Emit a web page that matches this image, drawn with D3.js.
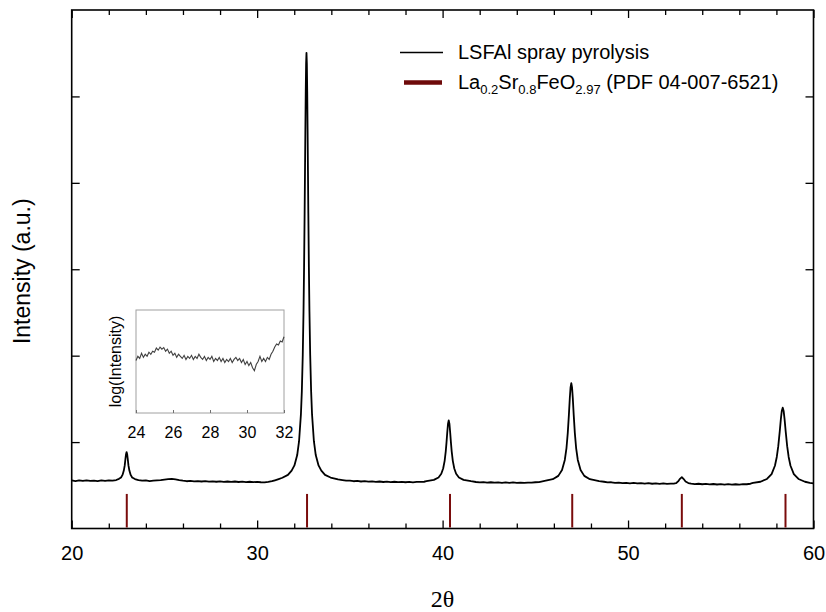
<!DOCTYPE html>
<html><head><meta charset="utf-8">
<script src="https://cdn.jsdelivr.net/npm/d3@7"></script>
<style>body{margin:0;background:#fff}svg{display:block}text{font-family:"Liberation Sans",Arial,sans-serif}</style>
</head><body><svg id="c" width="826" height="612"></svg>
<script>
// ---- data ----
const scanPoints = [
[20.0,0.556],[20.2,0.549],[20.4,0.557],[20.6,0.550],[20.8,0.558],[21.0,0.551],[21.2,0.555],[21.4,0.548],[21.6,0.556],[21.8,0.551],[22.0,0.557],[22.2,0.553],[22.4,0.561],[22.55,0.575],
[22.66,0.59],[22.74,0.62],[22.81,0.67],[22.86,0.73],[22.90,0.81],[22.93,0.86],[22.96,0.884],[22.99,0.86],[23.02,0.81],[23.06,0.73],[23.11,0.67],[23.18,0.62],[23.26,0.59],[23.41,0.572],[23.6,0.561],[23.8,0.553],
[24.0,0.556],[24.2,0.549],[24.4,0.553],[24.6,0.557],[24.8,0.560],[25.0,0.566],[25.2,0.571],[25.4,0.574],[25.6,0.568],[25.8,0.560],[26.0,0.553],[26.2,0.547],[26.4,0.551],[26.6,0.545],[26.8,0.549],[27.0,0.544],[27.2,0.548],[27.4,0.542],[27.6,0.546],[27.8,0.541],[28.0,0.546],[28.2,0.540],[28.4,0.544],[28.6,0.539],[28.8,0.544],[29.0,0.538],[29.2,0.542],[29.4,0.537],[29.6,0.541],[29.8,0.536],[30.0,0.540],[30.2,0.535],[30.4,0.534],[30.6,0.539],[30.8,0.547],
[30.96,0.558],[31.16,0.572],[31.36,0.587],[31.66,0.62],[31.86,0.67],[32.01,0.73],[32.16,0.85],[32.26,1.01],[32.36,1.32],[32.41,1.59],[32.46,2.01],[32.50,2.51],[32.53,3.02],[32.56,3.65],[32.58,4.13],[32.60,4.62],[32.62,5.06],[32.64,5.38],[32.66,5.505],
[32.68,5.38],[32.70,5.06],[32.72,4.62],[32.74,4.13],[32.76,3.65],[32.79,3.02],[32.82,2.51],[32.86,2.01],[32.91,1.59],[32.96,1.32],[33.06,1.01],[33.16,0.85],[33.31,0.73],[33.46,0.67],[33.66,0.62],[33.96,0.59],[34.36,0.568],
[34.6,0.561],[34.8,0.554],[35.0,0.553],[35.2,0.547],[35.4,0.550],[35.6,0.544],[35.8,0.548],[36.0,0.542],[36.2,0.546],[36.4,0.540],[36.6,0.544],[36.8,0.538],[37.0,0.543],[37.2,0.537],[37.4,0.541],[37.6,0.536],[37.8,0.540],[38.0,0.535],[38.2,0.539],[38.4,0.534],[38.6,0.539],[38.8,0.540],[39.0,0.541],
[39.13,0.547],[39.53,0.563],[39.78,0.591],[39.93,0.634],[40.03,0.694],[40.11,0.783],[40.17,0.893],[40.21,0.993],[40.25,1.108],[40.29,1.209],[40.33,1.251],[40.37,1.209],[40.41,1.108],[40.45,0.993],[40.49,0.893],[40.55,0.783],[40.63,0.694],[40.73,0.634],[40.88,0.591],[41.13,0.563],[41.53,0.547],
[41.8,0.538],[42.0,0.534],[42.2,0.537],[42.4,0.531],[42.6,0.535],[42.8,0.530],[43.0,0.534],[43.2,0.529],[43.4,0.533],[43.6,0.528],[43.8,0.533],[44.0,0.529],[44.2,0.532],[44.4,0.527],[44.6,0.532],[44.8,0.530],[45.0,0.535],[45.2,0.537],
[45.44,0.548],[45.94,0.57],[46.24,0.609],[46.44,0.676],[46.59,0.793],[46.68,0.931],[46.75,1.107],[46.81,1.315],[46.86,1.51],[46.90,1.634],[46.94,1.683],[46.98,1.634],[47.02,1.51],[47.07,1.315],[47.13,1.107],[47.20,0.931],[47.29,0.793],[47.44,0.676],[47.64,0.609],[47.94,0.57],[48.44,0.548],
[48.7,0.541],[48.9,0.533],[49.1,0.535],[49.3,0.528],[49.5,0.531],[49.7,0.525],[49.9,0.529],[50.1,0.523],[50.3,0.527],[50.5,0.521],[50.7,0.526],[50.9,0.520],[51.1,0.524],[51.3,0.518],[51.5,0.523],[51.7,0.517],[51.9,0.521],[52.1,0.516],[52.3,0.520],[52.5,0.521],
[52.6,0.526],[52.7,0.545],[52.8,0.575],[52.9,0.594],[53.0,0.572],[53.1,0.544],[53.25,0.526],[53.4,0.519],
[53.6,0.513],[53.8,0.518],[54.0,0.512],[54.2,0.516],[54.4,0.510],[54.6,0.515],[54.8,0.509],[55.0,0.514],[55.2,0.508],[55.4,0.513],[55.6,0.507],[55.8,0.512],[56.0,0.508],[56.2,0.513],[56.4,0.512],[56.6,0.518],
[56.74,0.527],[57.14,0.541],[57.49,0.573],[57.74,0.630],[57.92,0.726],[58.02,0.828],[58.10,0.953],[58.18,1.124],[58.24,1.266],[58.29,1.361],[58.34,1.398],[58.39,1.361],[58.44,1.266],[58.50,1.124],[58.58,0.953],[58.66,0.828],[58.76,0.726],[58.94,0.630],[59.19,0.573],[59.54,0.541],[59.8,0.528],[60.0,0.521]
];
const refPositions = [22.97, 32.69, 40.40, 46.99, 52.90, 58.49];
const refHeight = 0.40;
const xMajorTicks = [20, 30, 40, 50, 60];
const xMinorTicks = [22, 24, 26, 28, 32, 34, 36, 38, 42, 44, 46, 48, 52, 54, 56, 58];
const yTicks = [1, 2, 3, 4, 5];
const insetPoints = [
[24.0,0.51],[24.1,0.55],[24.2,0.53],[24.3,0.58],[24.4,0.54],[24.5,0.57],[24.6,0.55],[24.7,0.59],[24.8,0.57],[24.9,0.60],
[25.0,0.59],[25.1,0.63],[25.2,0.61],[25.3,0.64],[25.4,0.62],[25.5,0.635],[25.6,0.60],[25.7,0.62],[25.8,0.58],[25.9,0.60],
[26.0,0.56],[26.1,0.58],[26.2,0.54],[26.3,0.57],[26.4,0.55],[26.5,0.53],[26.6,0.56],[26.7,0.52],[26.8,0.55],[26.9,0.53],
[27.0,0.56],[27.1,0.52],[27.2,0.55],[27.3,0.53],[27.4,0.57],[27.5,0.54],[27.6,0.52],[27.7,0.55],[27.8,0.51],[27.9,0.54],
[28.0,0.52],[28.1,0.55],[28.2,0.50],[28.3,0.53],[28.4,0.51],[28.5,0.54],[28.6,0.50],[28.7,0.53],[28.8,0.49],[28.9,0.52],
[29.0,0.50],[29.1,0.53],[29.2,0.49],[29.3,0.52],[29.4,0.54],[29.5,0.51],[29.6,0.53],[29.7,0.49],[29.8,0.52],[29.9,0.47],
[30.0,0.50],[30.1,0.46],[30.2,0.49],[30.3,0.44],[30.4,0.41],[30.5,0.47],[30.6,0.50],[30.7,0.55],[30.8,0.50],[30.9,0.53],
[31.0,0.50],[31.1,0.54],[31.2,0.52],[31.3,0.57],[31.4,0.60],[31.5,0.64],[31.6,0.67],[31.7,0.66],[31.8,0.70],[31.9,0.69],[32.0,0.74]
];
const insetTicks = [24, 26, 28, 30, 32];
const legendLabels = ["LSFAl spray pyrolysis", "La0.2Sr0.8FeO2.97 (PDF 04-007-6521)"];

// ---- drawing ----
const svg = d3.select("#c");
const L = 71.7, R = 813.5, T = 10, B = 528.5;
const x = d3.scaleLinear().domain([20, 60]).range([L, R]);
const y = d3.scaleLinear().domain([0, 6]).range([B, T]);

function axisG(gen, tx, ty) {
  const g = svg.append("g").attr("transform", `translate(${tx},${ty})`).call(gen);
  g.select(".domain").remove();
  g.selectAll(".tick line").attr("stroke", "#000").attr("stroke-width", 1.3);
  return g;
}
// bottom
const gb = axisG(d3.axisBottom(x).tickValues(xMajorTicks).tickSize(-8).tickPadding(17).tickFormat(d3.format("d")), 0, B);
gb.selectAll("text").attr("font-size", 20).attr("fill", "#000");
axisG(d3.axisBottom(x).tickValues(xMinorTicks).tickSize(-5).tickFormat(""), 0, B);
// top
axisG(d3.axisTop(x).tickValues(xMajorTicks).tickSize(-8).tickFormat(""), 0, T);
axisG(d3.axisTop(x).tickValues(xMinorTicks).tickSize(-5).tickFormat(""), 0, T);
// left/right
axisG(d3.axisLeft(y).tickValues(yTicks).tickSize(-8).tickFormat(""), L, 0);
axisG(d3.axisRight(y).tickValues(yTicks).tickSize(-8).tickFormat(""), R, 0);

// frame
svg.append("rect").attr("x", L).attr("y", T).attr("width", R - L).attr("height", B - T)
  .attr("fill", "none").attr("stroke", "#000").attr("stroke-width", 1.6);

// reference sticks
svg.append("g").selectAll("line").data(refPositions).join("line")
  .attr("x1", d => x(d)).attr("x2", d => x(d))
  .attr("y1", y(0) - 1).attr("y2", y(refHeight))
  .attr("stroke", "#7a0c0c").attr("stroke-width", 2);

// pattern
svg.append("path").datum(scanPoints)
  .attr("d", d3.line().x(d => x(d[0])).y(d => y(d[1])))
  .attr("fill", "none").attr("stroke", "#000").attr("stroke-width", 1.8).attr("stroke-linejoin", "round");

// axis titles
svg.append("text").attr("transform", `translate(30,${(T + B) / 2 + 2}) rotate(-90)`)
  .attr("text-anchor", "middle").attr("font-size", 23).text("Intensity (a.u.)");
svg.append("text").attr("x", (L + R) / 2).attr("y", 607).attr("text-anchor", "middle")
  .attr("font-size", 24).style("font-family", "'Liberation Serif','Times New Roman',serif").text("2θ");

// inset
const ix = d3.scaleLinear().domain([24, 32]).range([136, 284]);
const iy = d3.scaleLinear().domain([0, 1]).range([413, 310]);
const ig = svg.append("g");
ig.append("rect").attr("x", 136).attr("y", 310).attr("width", 148).attr("height", 103)
  .attr("fill", "#fff").attr("stroke", "#a0a0a0").attr("stroke-width", 1);
const ia = ig.append("g").attr("transform", "translate(0,413)")
  .call(d3.axisBottom(ix).tickValues(insetTicks).tickSize(-3).tickPadding(14).tickFormat(d3.format("d")));
ia.select(".domain").remove();
ia.selectAll(".tick line").attr("stroke", "#707070");
ia.selectAll("text").attr("font-size", 16).attr("fill", "#000");
ig.append("path").datum(insetPoints)
  .attr("d", d3.line().x(d => ix(d[0])).y(d => iy(d[1])))
  .attr("fill", "none").attr("stroke", "#404040").attr("stroke-width", 1.1);
ig.append("text").attr("transform", "translate(121,361.5) rotate(-90)")
  .attr("text-anchor", "middle").attr("font-size", 16).text("log(Intensity)");

// legend
const lg = svg.append("g");
lg.append("line").attr("x1", 400).attr("x2", 443).attr("y1", 52.5).attr("y2", 52.5)
  .attr("stroke", "#000").attr("stroke-width", 1.3);
lg.append("text").attr("x", 458).attr("y", 59).attr("font-size", 20).text(legendLabels[0]);
lg.append("line").attr("x1", 404).attr("x2", 442).attr("y1", 82.5).attr("y2", 82.5)
  .attr("stroke", "#6e0a0a").attr("stroke-width", 4.5);
const t2 = lg.append("text").attr("x", 458).attr("y", 89).attr("font-size", 20);
const parts = [["La",0],["0.2",1],["Sr",0],["0.8",1],["FeO",0],["2.97",1],[" (PDF 04-007-6521)",0]];
let prevSub = false;
parts.forEach(([s, sub]) => {
  const ts = t2.append("tspan").text(s);
  if (sub) { ts.attr("font-size", 13).attr("dy", prevSub ? 0 : 5); }
  else if (prevSub) { ts.attr("dy", -5); }
  prevSub = !!sub;
});
</script></body></html>
